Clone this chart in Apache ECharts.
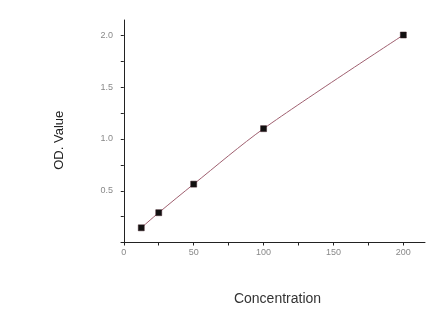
<!DOCTYPE html>
<html><head><meta charset="utf-8">
<script src="https://cdn.jsdelivr.net/npm/echarts@6/dist/echarts.min.js"></script>
<style>html,body{margin:0;padding:0;background:#fff}#c{width:440px;height:330px}</style>
</head><body><div id="c"></div>
<script>
const concentration = [12.5, 25, 50, 100, 200];
const odValue = [0.142, 0.288, 0.564, 1.10, 2.005];
const xTickLabels = [0, 50, 100, 150, 200];
const xTicks = [0, 25, 50, 75, 100, 125, 150, 175, 200];
const yTickLabels = [0.5, 1.0, 1.5, 2.0];
const yTicks = [0.25, 0.5, 0.75, 1.0, 1.25, 1.5, 1.75, 2.0];

const pts = concentration.map((c, i) => [c, odValue[i]]);
const font = '"Liberation Sans", Arial, sans-serif';
const chart = echarts.init(document.getElementById('c'), null, {renderer: 'canvas'});
chart.setOption({
  animation: false,
  backgroundColor: '#fff',
  grid: {left: 121, top: 20, right: 15, bottom: 87.5, containLabel: false},
  xAxis: {
    type: 'value', min: -2, max: 215.5,
    name: 'Concentration', nameLocation: 'middle', nameGap: 50,
    nameTextStyle: {fontFamily: font, fontSize: 14, color: '#333', padding: [0, 0, 0, 9]},
    axisLine: {show: true, lineStyle: {color: '#222', width: 1}},
    axisTick: {show: true, length: 3, inside: false, customValues: xTicks, lineStyle: {color: '#222'}},
    axisLabel: {customValues: xTickLabels, fontFamily: font, fontSize: 9, color: '#888', margin: 6,
      formatter: v => String(v)},
    splitLine: {show: false}
  },
  yAxis: {
    type: 'value', min: 0, max: 2.15,
    name: 'OD. Value', nameLocation: 'middle', nameGap: 55,
    nameTextStyle: {fontFamily: font, fontSize: 13, color: '#222', padding: [0, 18, 0, 0]},
    axisLine: {show: true, lineStyle: {color: '#222', width: 1}},
    axisTick: {show: true, length: 3, inside: false, customValues: yTicks, lineStyle: {color: '#222'}},
    axisLabel: {customValues: yTickLabels, fontFamily: font, fontSize: 9, color: '#888', margin: 8,
      formatter: v => v.toFixed(1)},
    splitLine: {show: false}
  },
  series: [{
    type: 'line',
    data: pts,
    smooth: 0.3,
    symbol: 'rect',
    symbolSize: 6,
    showSymbol: true,
    itemStyle: {color: '#111', borderColor: '#3a1a22', borderWidth: 0.5},
    lineStyle: {color: '#a06070', width: 1},
    z: 2
  }]
});
</script></body></html>
